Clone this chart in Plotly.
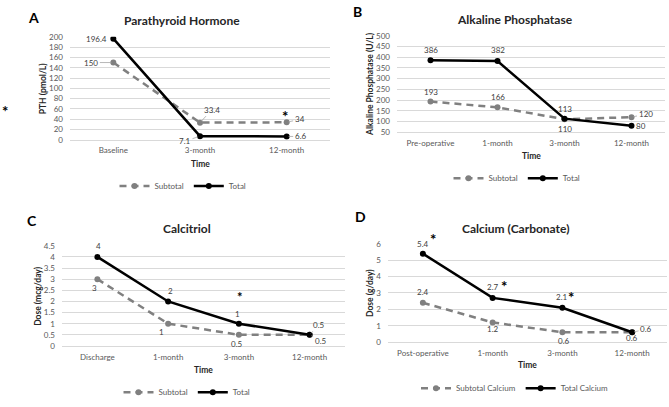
import plotly.graph_objects as go

W, H = 669, 407

# ---------------- data ----------------
pth_cats = ["Baseline", "3-month", "12-month"]
pth_sub = [150, 33.4, 34]
pth_tot = [196.4, 7.1, 6.6]

alp_cats = ["Pre-operative", "1-month", "3-month", "12-month"]
alp_sub = [193, 166, 110, 120]
alp_tot = [386, 382, 113, 80]

cal_cats = ["Discharge", "1-month", "3-month", "12-month"]
cal_sub = [3, 1, 0.5, 0.5]
cal_tot = [4, 2, 1, 0.5]

ca_cats = ["Post-operative", "1-month", "3-month", "12-month"]
ca_sub = [2.4, 1.2, 0.6, 0.6]
ca_tot = [5.4, 2.7, 2.1, 0.6]

# label placement styles: (dx, dy, leader) in pixels, dy positive = down
pth_sub_lbl = [(-22, 0, True), (12, -13, True), (13, -3, True)]
pth_tot_lbl = [(-17, 0, False), (-15, 5, True), (14, 0, True)]
alp_sub_lbl = [(0, -10, False), (0, -10, False), (0, 10, False), (14, -3, True)]
alp_tot_lbl = [(0, -10, False), (0, -11, False), (0, -10, False), (9, 0, False)]
cal_sub_lbl = [(-3, 9, False), (-7, 8, False), (-2, 9, False), (11, 6, True)]
cal_tot_lbl = [(1, -11, False), (2, -10, False), (-1, -10, False), (9, -10, True)]
ca_sub_lbl = [(0, -11, False), (0, 7, False), (2, 9, False), (14, -3, True)]
ca_tot_lbl = [(0, -10, False), (0, -11, False), (0, -11, False), (0, 6, False)]

FONT = "Lato"
GRID = "#d9d9d9"
TICK = "#595959"
SUBC = "#808080"

# panel geometry in pixels: (x0, x1, ytop, ybottom)
panels = {
    1: dict(cats=pth_cats, sub=pth_sub, tot=pth_tot, rng=[0, 200], dt=20,
            box=(70, 330, 33, 140), title="Parathyroid Hormone", letter="A",
            ytitle="PTH (pmol/L)", ytx=43, timey=165, legy=188,
            names=("Subtotal", "Total"), sl=pth_sub_lbl, tl=pth_tot_lbl,
            titlex=182, titley=16, letx=33, lety=13, legx=183, timex=200),
    2: dict(cats=alp_cats, sub=alp_sub, tot=alp_tot, rng=[50, 500], dt=50,
            box=(397, 665, 32, 132), title="Alkaline Phosphatase", letter="B",
            ytitle="Alkaline Phosphatase (U/L)", ytx=370, timey=157, legy=180,
            names=("Subtotal", "Total"), sl=alp_sub_lbl, tl=alp_tot_lbl,
            titlex=515, titley=15, letx=357, lety=7, legx=517, timex=531),
    3: dict(cats=cal_cats, sub=cal_sub, tot=cal_tot, rng=[0, 4.5], dt=0.5,
            box=(62, 345, 250, 354), title="Calcitriol", letter="C",
            ytitle="Dose (mcg/day)", ytx=38, timey=379, legy=402,
            names=("Subtotal", "Total"), sl=cal_sub_lbl, tl=cal_tot_lbl,
            titlex=187, titley=232, letx=32, lety=224, legx=187, timex=203),
    4: dict(cats=ca_cats, sub=ca_sub, tot=ca_tot, rng=[0, 6], dt=1,
            box=(388, 667, 248, 350), title="Calcium (Carbonate)", letter="D",
            ytitle="Dose (g/day)", ytx=370, timey=374, legy=398,
            names=("Subtotal Calcium", "Total Calcium"), sl=ca_sub_lbl, tl=ca_tot_lbl,
            titlex=515, titley=232, letx=360, lety=220, legx=515, timex=527),
}

fig = go.Figure()
annotations = []
layout = {}

def px(x):
    return x / W

def py(y):
    return 1 - y / H

def ptext(text, x, y, size, color="#262626", angle=0, yanchor="middle"):
    return dict(text=text, x=px(x), y=py(y), xref="paper", yref="paper",
                xanchor="center", yanchor=yanchor, showarrow=False, textangle=angle,
                font=dict(size=size, color=color, family=FONT))

for i, p in panels.items():
    sfx = "" if i == 1 else str(i)
    xa, ya = "x" + sfx, "y" + sfx
    leg = "legend" if i == 1 else "legend" + str(i)
    x0, x1, yt, yb = p["box"]
    n = len(p["cats"])
    fig.add_trace(go.Scatter(
        x=p["cats"], y=p["sub"], mode="lines+markers", name=p["names"][0],
        line=dict(color=SUBC, width=2.5, dash="7px,5px"),
        marker=dict(size=6, color=SUBC), xaxis=xa, yaxis=ya, legend=leg))
    fig.add_trace(go.Scatter(
        x=p["cats"], y=p["tot"], mode="lines+markers", name=p["names"][1],
        line=dict(color="black", width=2.5),
        marker=dict(size=6, color="black"), xaxis=xa, yaxis=ya, legend=leg))

    layout["xaxis" + sfx] = dict(
        domain=[px(x0), px(x1)], anchor=ya, type="category",
        range=[-0.5, n - 0.5], showgrid=False, showline=True, linecolor=GRID,
        linewidth=1, ticks="", tickfont=dict(size=8, color=TICK, family=FONT),
        ticklabelstandoff=3, fixedrange=True)
    layout["yaxis" + sfx] = dict(
        domain=[py(yb), py(yt)], anchor=xa, range=p["rng"], dtick=p["dt"],
        showgrid=True, gridcolor=GRID, gridwidth=1, zeroline=False,
        showline=False, ticks="", tickfont=dict(size=8, color=TICK, family=FONT),
        ticklabelstandoff=6, fixedrange=True)
    layout[leg] = dict(
        orientation="h", x=px(p["legx"]), y=py(p["legy"]), xanchor="center",
        yanchor="middle", font=dict(size=8, color=TICK, family=FONT),
        bgcolor="rgba(0,0,0,0)", itemwidth=30, tracegroupgap=0)

    annotations.append(ptext("<b>%s</b>" % p["title"], p["titlex"], p["titley"], 12))
    annotations.append(ptext("<b>%s</b>" % p["letter"], p["letx"], p["lety"], 14, "black"))
    annotations.append(ptext("<b>%s</b>" % p["ytitle"], p["ytx"], (yt + yb) / 2, 8.5, angle=-90))
    annotations.append(ptext("<b>Time</b>", p["timex"], p["timey"], 8.5))

    # data labels
    for vals, lbls in ((p["sub"], p["sl"]), (p["tot"], p["tl"])):
        for c, v, (dx, dy, leader) in zip(p["cats"], vals, lbls):
            a = dict(x=c, y=v, xref=xa, yref=ya, text=str(v),
                     font=dict(size=8, color="#404040", family=FONT))
            if leader:
                a.update(showarrow=True, ax=dx, ay=dy, arrowhead=0, arrowwidth=0.8,
                         arrowcolor="#a6a6a6", standoff=2)
            else:
                a.update(showarrow=False, xshift=dx, yshift=-dy,
                         xanchor="center", yanchor="middle")
            annotations.append(a)

# significance asterisks
stars = [(285, 115), (5, 110), (433, 243), (504, 292), (571, 303)]
for sx, sy in stars:
    annotations.append(ptext("<b>*</b>", sx, sy, 15, "black"))
# the calcitriol asterisk sits right above the "1" label
annotations.append(ptext("<b>*</b>", 240, 314, 13, "black", yanchor="bottom"))

fig.update_layout(
    width=W, height=H, margin=dict(l=0, r=0, t=0, b=0),
    paper_bgcolor="white", plot_bgcolor="white",
    font=dict(family=FONT), annotations=annotations, showlegend=True,
    **layout)

fig.write_html("out.html", config={"displayModeBar": False},
               post_script="document.body.style.margin='0';")
